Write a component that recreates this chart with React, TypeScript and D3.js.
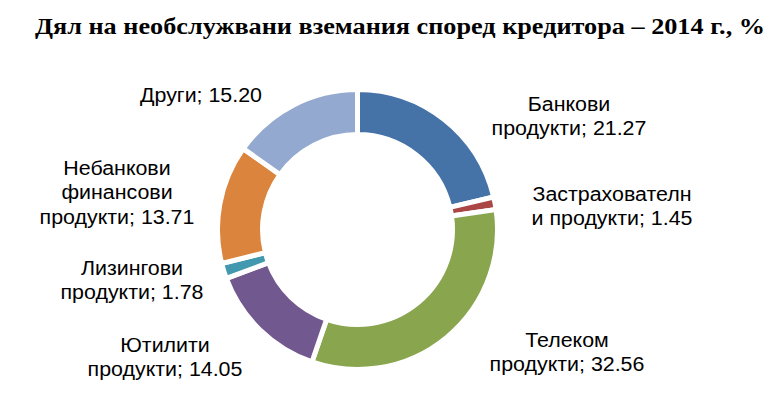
import React from "react";
import * as d3 from "d3";

const categories = [
  "Банкови продукти",
  "Застрахователни продукти",
  "Телеком продукти",
  "Ютилити продукти",
  "Лизингови продукти",
  "Небанкови финансови продукти",
  "Други",
];
const values = [21.27, 1.45, 32.56, 14.05, 1.78, 13.71, 15.2];
const colors = ["#4572A7", "#AA4643", "#89A54E", "#71588F", "#4198AF", "#DB843D", "#93A9CF"];
// label lines (text wrapping as in the reference)
const labelLines = [
  ["Банкови", "продукти; 21.27"],
  ["Застрахователн", "и продукти; 1.45"],
  ["Телеком", "продукти; 32.56"],
  ["Ютилити", "продукти; 14.05"],
  ["Лизингови", "продукти; 1.78"],
  ["Небанкови", "финансови", "продукти; 13.71"],
  ["Други; 15.20"],
];
const labelPos: [number, number][] = [
  [569, 111],
  [612, 201],
  [567, 347],
  [165, 352],
  [132, 275],
  [117, 175],
  [201, 102],
];

export default function App() {
  const W = 777, H = 420;
  const cx = 357.5, cy = 229.5;
  const pie = d3.pie<number>().sort(null).value((d) => d);
  const arcs = pie(values);
  const arc = d3.arc<d3.PieArcDatum<number>>().innerRadius(95).outerRadius(140);
  return (
    <svg width={W} height={H} style={{ position: "absolute", left: 0, top: 0, background: "#fff" }}>
      <text x={35} y={33.5} textLength={730} lengthAdjust="spacingAndGlyphs" fontFamily="'Liberation Serif', 'Times New Roman', serif" fontWeight="bold" fontSize={24} fill="#000">
        Дял на необслужвани вземания според кредитора – 2014 г., %
      </text>
      <g transform={`translate(${cx},${cy})`}>
        {arcs.map((a, i) => (
          <path key={categories[i]} d={arc(a) || ""} fill={colors[i]} stroke="#fff" strokeWidth={5} />
        ))}
      </g>
      {labelLines.map((lines, i) => (
        <g key={i} transform={`translate(${labelPos[i][0]},${labelPos[i][1]}) scale(1.07,1)`}>
          <text fontFamily="'Liberation Sans', Arial, sans-serif" fontSize={20} fill="#000" textAnchor="middle">
            {lines.map((l, j) => (
              <tspan key={j} x={0} y={j * 24.5}>{l}</tspan>
            ))}
          </text>
        </g>
      ))}
    </svg>
  );
}
